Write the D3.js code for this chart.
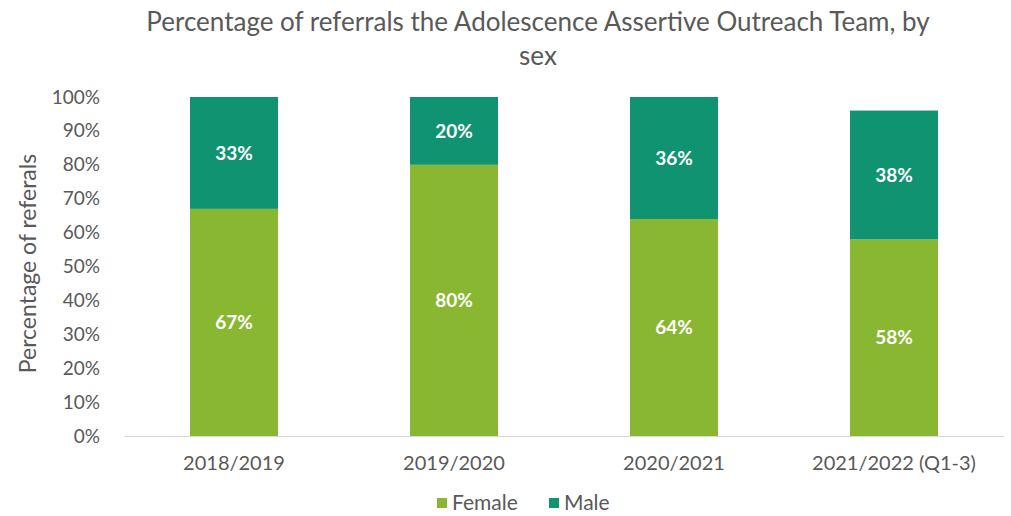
<!DOCTYPE html>
<html>
<head>
<meta charset="utf-8">
<script src="https://cdn.jsdelivr.net/npm/d3@7"></script>
<style>
  html, body { margin: 0; padding: 0; background: #ffffff; }
  svg { display: block; }
  text { font-family: Lato, "Open Sans", Arial, sans-serif; }
</style>
</head>
<body>
<svg id="chart" width="1011" height="516"></svg>
<script>
// Referral shares by year and sex
const categories = ["2018/2019", "2019/2020", "2020/2021", "2021/2022 (Q1-3)"];
const female = [67, 80, 64, 58];
const male = [33, 20, 36, 38];
const seriesNames = ["Female", "Male"];
const yTicks = [0, 10, 20, 30, 40, 50, 60, 70, 80, 90, 100];

const colors = { Female: "#89b732", Male: "#0f9371" };
const textColor = "#595959";
const font = "Lato, \"Open Sans\", sans-serif";

const svg = d3.select("#chart");
const margin = { left: 124, right: 7 };
const W = 1011;

const x = d3.scaleBand()
  .domain(categories)
  .range([margin.left, W - margin.right])
  .paddingInner(0.6)
  .paddingOuter(0.3);

const y = d3.scaleLinear()
  .domain([0, 100])
  .range([436, 97]);

const rows = categories.map((c, i) => ({ category: c, Female: female[i], Male: male[i] }));
const stacked = d3.stack().keys(seriesNames)(rows);

// Title
const title = svg.append("g").attr("fill", textColor).attr("font-size", 26).attr("text-anchor", "middle");
title.append("text").attr("x", 538).attr("y", 31)
  .text("Percentage of referrals the Adolescence Assertive Outreach Team, by");
title.append("text").attr("x", 538).attr("y", 65).text("sex");

// Y axis (labels only)
const yAxis = svg.append("g")
  .attr("transform", `translate(100,0)`)
  .call(d3.axisLeft(y).tickValues(yTicks).tickFormat(d => d + "%").tickSize(0).tickPadding(0));
yAxis.select(".domain").remove();
yAxis.selectAll("text").attr("fill", textColor).attr("font-size", 19).attr("font-family", font);

// Y axis title
svg.append("text")
  .attr("transform", `translate(36,${y(50) - 3}) rotate(-90)`)
  .attr("text-anchor", "middle")
  .attr("fill", textColor)
  .attr("font-size", 23)
  .text("Percentage of referals");

// Bars
const layers = svg.append("g").selectAll("g")
  .data(stacked)
  .join("g")
  .attr("fill", d => colors[d.key]);

layers.selectAll("rect")
  .data(d => d)
  .join("rect")
  .attr("x", d => x(d.data.category))
  .attr("width", x.bandwidth())
  .attr("y", d => y(d[1]))
  .attr("height", d => y(d[0]) - y(d[1]));

// Value labels
layers.selectAll("text")
  .data(d => d)
  .join("text")
  .attr("x", d => x(d.data.category) + x.bandwidth() / 2)
  .attr("y", d => (y(d[0]) + y(d[1])) / 2)
  .attr("dy", "0.35em")
  .attr("text-anchor", "middle")
  .attr("fill", "#ffffff")
  .attr("font-weight", "bold")
  .attr("font-size", 19)
  .text(d => (d[1] - d[0]) + "%");

// X axis
const xAxis = svg.append("g")
  .attr("transform", `translate(0,${y(0)})`)
  .call(d3.axisBottom(x).tickSize(0).tickPadding(20));
xAxis.select(".domain").attr("stroke", "#d9d9d9").attr("stroke-width", 1.2);
xAxis.selectAll("text").attr("fill", textColor).attr("font-size", 20).attr("font-family", font);

// Legend
const legend = svg.append("g").attr("transform", "translate(437,503)");
const legendOffsets = [0, 112];
seriesNames.forEach((name, i) => {
  const g = legend.append("g").attr("transform", `translate(${legendOffsets[i]},0)`);
  g.append("rect").attr("x", 0).attr("y", -5).attr("width", 10).attr("height", 10).attr("fill", colors[name]);
  g.append("text").attr("x", 15).attr("y", 0).attr("dy", "0.35em")
    .attr("fill", textColor).attr("font-size", 21).text(name);
});
</script>
</body>
</html>
